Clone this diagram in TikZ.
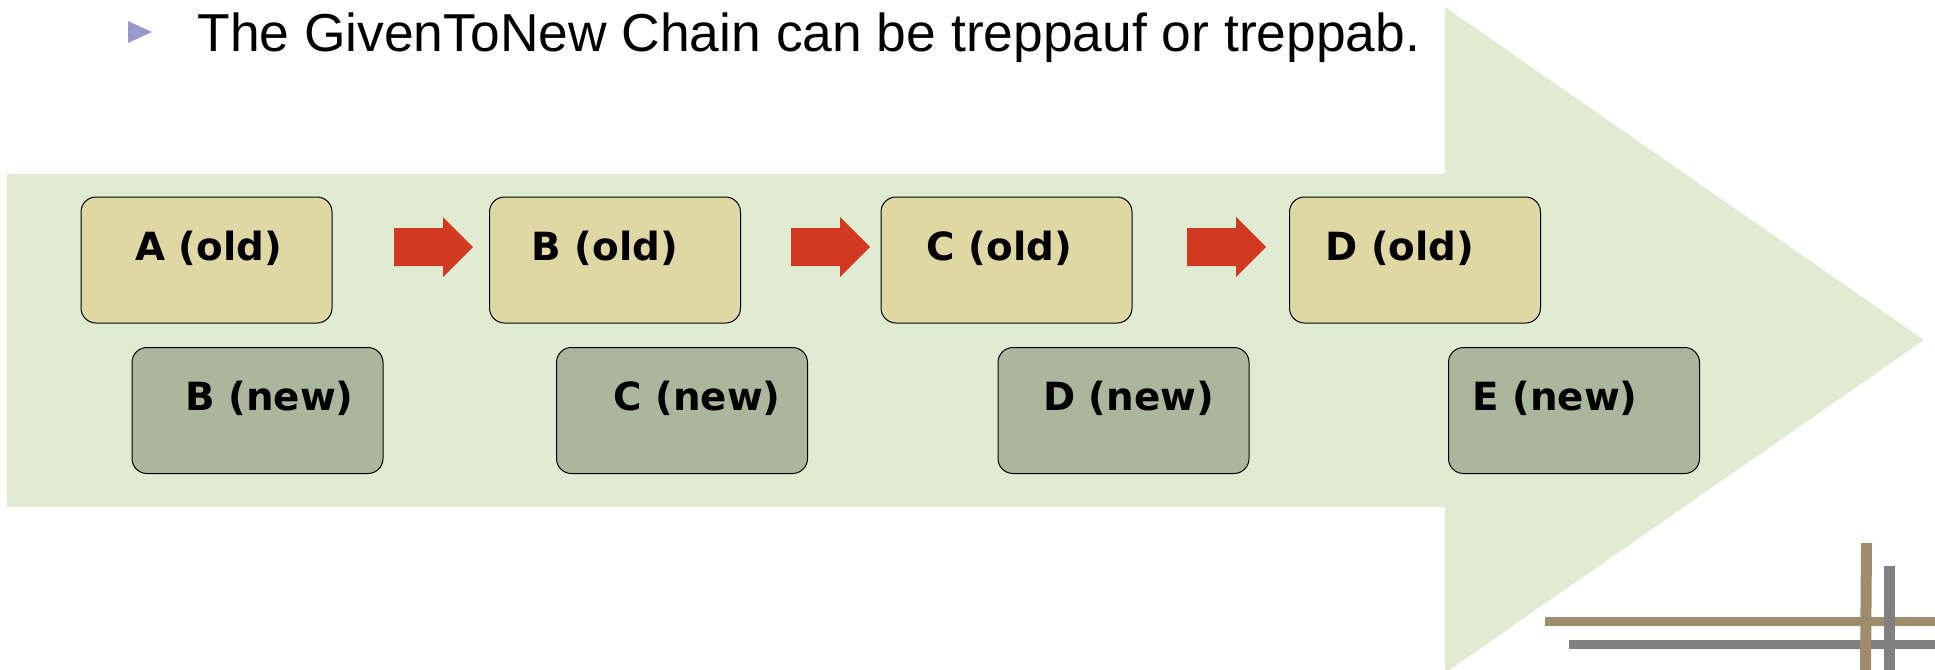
\documentclass[tikz,border=0pt]{standalone}
\usepackage{fontspec}
\setmainfont{Liberation Sans}
\newfontfamily\boxfont{DejaVu Sans}
\usepackage{tikz}
\definecolor{bigarrow}{RGB}{224,236,209}
\definecolor{oldfill}{RGB}{223,216,164}
\definecolor{newfill}{RGB}{170,183,156}
\definecolor{redarr}{RGB}{209,58,32}
\definecolor{bulletcol}{RGB}{153,153,204}
\definecolor{tanbar}{RGB}{158,140,106}
\definecolor{graybar}{RGB}{128,128,128}
\tikzset{
  box/.style={draw=black, line width=0.5pt, rounded corners=7.5pt, minimum width=125.5pt,
    minimum height=63pt, inner sep=0pt, text height=10pt, text depth=10pt,
    font=\boxfont\bfseries\fontsize{19.4}{22}\selectfont},
  oldbox/.style={box, fill=oldfill},
  newbox/.style={box, fill=newfill}
}

\begin{document}
\begin{tikzpicture}[x=0.5pt,y=-0.5pt]
\useasboundingbox (0,0) rectangle (1935,670);
\fill[bigarrow] (7,174)--(1445,174)--(1445,7)--(1924,340)--(1445,673)--(1445,507)--(7,507)--cycle;
\fill[bulletcol] (128,21)--(152,32)--(128,43)--cycle;
\node[anchor=base west, inner sep=0pt, font=\fontsize{26.7}{30}\selectfont] (title) at (197,51)
  {The GivenToNew Chain can be treppauf or treppab.};
\node[oldbox] (Aold) at (206.5,260) {\hspace*{2pt}A (old)};
\node[oldbox] (Bold) at (615,260) {\hspace*{-10pt}B (old)};
\node[oldbox] (Cold) at (1006.5,260) {\hspace*{-7pt}C (old)};
\node[oldbox] (Dold) at (1415,260) {\hspace*{-15pt}D (old)};
\node[newbox] (Bnew) at (257.5,410.5) {\hspace*{12pt}B (new)};
\node[newbox] (Cnew) at (682,410.5) {\hspace*{15pt}C (new)};
\node[newbox] (Dnew) at (1123.5,410.5) {\hspace*{5pt}D (new)};
\node[newbox] (Enew) at (1574,410.5) {\hspace*{-19pt}E (new)};
\foreach \x in {394,791,1187}
  \fill[redarr] (\x,228)--++(49,0)--++(0,-11)--++(30,30)--++(-30,30)--++(0,-11)--++(-49,0)--cycle;
\fill[tanbar] (1545,617) rectangle (1935,626);
\fill[graybar] (1569,640) rectangle (1935,649);
\fill[tanbar] (1861,543)--(1872,543)--(1871,670)--(1860,670)--cycle;
\fill[graybar] (1884,566) rectangle (1895,670);
\end{tikzpicture}
\end{document}
